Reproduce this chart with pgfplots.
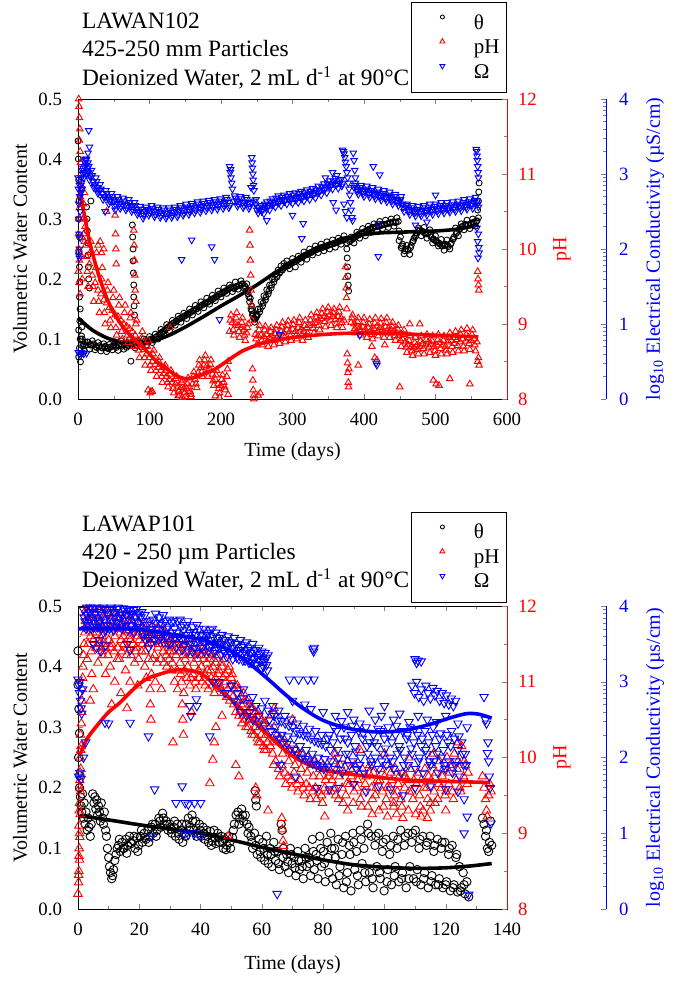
\documentclass[border=0pt]{standalone}
\usepackage{fontspec}
\setmainfont{Liberation Serif}
\usepackage{pgfplots}
\pgfplotsset{compat=1.18}

\definecolor{phred}{RGB}{255,0,0}
\definecolor{ecblue}{RGB}{0,0,255}

\pgfplotsset{
  base/.style={
    scale only axis, width=214.5pt, anchor=south west, clip=false,
    tick align=inside, major tick length=2.4pt, minor tick length=1.4pt,
    tick label style={font=\fontsize{9.4}{11}\selectfont},
    label style={font=\fontsize{11.7}{14}\selectfont},
    /pgf/number format/assume math mode=true,
  },
  thaxis/.style={base,
    ymin=0, ymax=0.5, ytick={0,0.1,0.2,0.3,0.4,0.5}, minor y tick num=1,
    ytick pos=left,
    yticklabel style={/pgf/number format/fixed, /pgf/number format/fixed zerofill,
      /pgf/number format/precision=1, xshift=-4.5pt},
    xticklabel style={yshift=-3.5pt},
    ylabel={Volumetric Water Content}, xlabel={Time (days)},
    every axis y label/.style={at={(rel axis cs:-0.135,0.5)}, anchor=center, rotate=90},
    legend cell align=left,
    legend style={draw=black, line width=0.5pt, fill=white, anchor=south east,
      font=\fontsize{10.5}{12}\selectfont, inner xsep=3.5pt, inner ysep=5.25pt,
      row sep=2.25pt, column sep=2.5pt,
      nodes={inner sep=0pt, text height=8pt, text depth=2pt}},
    legend image code/.code={\path (0pt,0pt) (24.5pt,0pt);
      \draw[##1] plot coordinates {(11.5pt,3pt)};},
  },
  phaxis/.style={base, axis y line*=right, axis x line=none,
    ymin=8, ymax=12, ytick={8,9,10,11,12}, minor y tick num=1,
    y axis line style={phred,-},
    yticklabel style={text=phred, xshift=2pt},
    ylabel={pH},
    every axis y label/.style={at={(rel axis cs:1.128,0.5)}, anchor=center, rotate=90, text=phred},
  },
  ecdata/.style={base, hide axis, ymin=0, ymax=4},
  ecaxis/.style={scale only axis, width=1pt, anchor=south west,
    xmin=0, xmax=1, ymin=0, ymax=4, axis y line*=right, axis x line=none,
    tick align=inside, major tick length=2.4pt, minor tick length=1.4pt,
    tick label style={font=\fontsize{9.4}{11}\selectfont},
    label style={font=\fontsize{11.7}{14}\selectfont},
    /pgf/number format/assume math mode=true,
    ytick={0,1,2,3,4},
    minor ytick={0.301,0.477,0.602,0.699,0.778,0.845,0.903,0.954,
      1.301,1.477,1.602,1.699,1.778,1.845,1.903,1.954,
      2.301,2.477,2.602,2.699,2.778,2.845,2.903,2.954,
      3.301,3.477,3.602,3.699,3.778,3.845,3.903,3.954},
    y axis line style={ecblue,-},
    yticklabel style={text=ecblue, xshift=3pt},
    every axis y label/.style={at={(rel axis cs:25.5,0.5)}, anchor=center, rotate=90, text=ecblue},
  },
  thpt/.style={only marks, mark=o, line width=0.45pt, black},
  phpt/.style={only marks, mark=triangle, line width=0.45pt, phred},
  ecpt/.style={only marks, mark=triangle, mark options={rotate=180}, line width=0.45pt, ecblue},
  fitline/.style={no marks, smooth, line width=1.8pt},
}

\begin{document}
\begin{tikzpicture}
\useasboundingbox (0,0) rectangle (337pt,493pt);

% ---------------- top panel: LAWAN102 ----------------
\begin{axis}[thaxis, at={(39pt,293.5pt)}, height=150pt,
  xmin=0, xmax=600, xtick={0,100,200,300,400,500,600}, minor x tick num=1,
  every axis x label/.style={at={(rel axis cs:0.5,-0.177)}, anchor=center},
  legend style={at={(1,1.02)}}]
\addlegendimage{only marks, mark=o, mark size=1pt, line width=0.45pt, black}
\addlegendentry{θ}
\addlegendimage{only marks, mark=triangle, mark size=1.45pt, line width=0.45pt, phred}
\addlegendentry{pH}
\addlegendimage{only marks, mark=triangle, mark options={rotate=180}, mark size=1.45pt, line width=0.45pt, ecblue}
\addlegendentry{Ω}
\addplot[thpt, mark size=1.5pt, forget plot] coordinates {
(0,0.43)(0.5,0.40)(1,0.365)(1.5,0.33)(1,0.30)(2,0.27)(1.5,0.245)(2,0.22)(2.5,0.195)(2,0.17)(3,0.15)(2.5,0.13)(1,0.115)(3,0.10)(2,0.085)(1,0.07)(3.5,0.062)(4,0.075)(4.5,0.09)(5,0.105)(5.5,0.12)(6,0.1)(7,0.088)(8,0.092)(9,0.08)(10,0.095)(11,0.09)
(12,0.32)(12.5,0.30)(13,0.28)(13.5,0.26)(14,0.24)(14.5,0.22)(15,0.20)(16,0.185)(18,0.33)
(74,0.063)(76,0.29)(76.5,0.27)(77,0.25)(77,0.23)(77.5,0.21)(78,0.19)(78,0.17)(78.5,0.155)(79,0.14)
(14,0.095)(18,0.09)(22,0.092)(26,0.086)(30,0.089)(34,0.085)(38,0.088)(42,0.084)(46,0.087)(50,0.09)(54,0.086)(58,0.092)(62,0.088)(66,0.093)(70,0.089)(74,0.094)(82,0.09)(86,0.095)(90,0.092)(94,0.097)(98,0.095)(102,0.1)(106,0.098)(110,0.104)(114,0.108)(118,0.112)(122,0.116)(126,0.12)(130,0.124)(134,0.127)(138,0.13)(142,0.134)(146,0.136)(150,0.139)(154,0.142)(158,0.145)(162,0.148)(166,0.15)(170,0.154)(174,0.157)(178,0.16)(182,0.162)(186,0.166)(190,0.168)(194,0.171)(198,0.175)(202,0.177)(206,0.18)(210,0.183)(214,0.186)(218,0.184)(222,0.188)(226,0.19)(230,0.192)(234,0.186)(238,0.175)(240,0.162)(242,0.15)(244,0.14)(246,0.135)(248,0.133)(250,0.138)(254,0.145)(258,0.155)(262,0.165)(266,0.175)(270,0.185)(274,0.195)(278,0.203)(282,0.21)(286,0.215)(290,0.22)(294,0.222)(298,0.226)(302,0.228)(306,0.231)(310,0.234)(314,0.236)(318,0.24)(322,0.242)(326,0.244)(330,0.247)(334,0.249)(338,0.251)(342,0.253)(346,0.254)(350,0.256)(354,0.258)(358,0.259)(362,0.261)(366,0.263)(370,0.265)(374,0.266)(380,0.262)(384,0.266)(388,0.27)(392,0.273)(396,0.276)(400,0.278)(404,0.28)(408,0.283)(412,0.285)(416,0.287)(420,0.288)(424,0.289)(428,0.291)(432,0.292)(436,0.293)(440,0.295)(444,0.294)(448,0.296)(451,0.27)(454,0.258)(458,0.25)(462,0.248)(466,0.256)(470,0.268)(474,0.277)(478,0.282)(482,0.279)(486,0.275)(490,0.277)(494,0.27)(498,0.265)(502,0.262)(506,0.258)(510,0.255)(514,0.258)(518,0.254)(522,0.26)(526,0.27)(530,0.278)(534,0.284)(538,0.288)(542,0.291)(546,0.29)(550,0.293)(554,0.295)(558,0.297)
(16,0.083)(20,0.097)(24,0.082)(28,0.094)(32,0.08)(36,0.092)(40,0.079)(44,0.091)(48,0.082)(52,0.095)(56,0.081)(60,0.097)(64,0.083)(68,0.086)(72,0.099)(80,0.085)(84,0.097)(88,0.087)(92,0.1)(96,0.09)(100,0.104)(104,0.094)(108,0.108)(112,0.1)(116,0.116)(120,0.108)(124,0.124)(128,0.114)(132,0.131)(136,0.123)(140,0.138)(144,0.128)(148,0.143)(152,0.134)(156,0.15)(160,0.14)(164,0.156)(168,0.146)(172,0.162)(176,0.152)(180,0.168)(184,0.158)(188,0.173)(192,0.164)(196,0.18)(200,0.17)(204,0.185)(208,0.176)(212,0.19)(216,0.179)(220,0.195)(224,0.183)(228,0.197)(232,0.185)(236,0.192)(238,0.182)(241,0.168)(243,0.155)(245,0.142)(247,0.128)(249,0.14)(252,0.15)(256,0.162)(260,0.172)(264,0.182)(268,0.19)(272,0.2)(276,0.208)(280,0.215)(284,0.222)(288,0.226)(292,0.23)(296,0.217)(300,0.234)(304,0.22)(308,0.238)(312,0.228)(316,0.245)(320,0.233)(324,0.25)(328,0.24)(332,0.255)(336,0.244)(340,0.258)(344,0.247)(348,0.262)(352,0.25)(356,0.265)(360,0.253)(364,0.268)(368,0.258)(372,0.272)(376,0.26)(382,0.27)(386,0.26)(390,0.278)(394,0.268)(398,0.284)(402,0.272)(406,0.288)(410,0.278)(414,0.292)(418,0.281)(422,0.296)(426,0.284)(430,0.298)(434,0.286)(438,0.3)(442,0.288)(446,0.302)(449,0.264)(452,0.252)(456,0.242)(460,0.256)(464,0.241)(468,0.262)(472,0.271)(476,0.285)(480,0.272)(484,0.286)(488,0.268)(492,0.282)(496,0.26)(500,0.272)(504,0.255)(508,0.266)(512,0.248)(516,0.265)(520,0.25)(524,0.266)(528,0.285)(532,0.272)(536,0.292)(540,0.282)(544,0.298)(548,0.284)(552,0.3)(556,0.288)(560,0.302)
(376,0.25)(376.5,0.235)(377,0.22)(377.5,0.205)(378,0.19)(378.5,0.18)(559,0.315)(560,0.33)(560.5,0.345)(561,0.36)
};
\addplot[thpt, mark size=1.5pt, forget plot] coordinates {
(13,0.095)(17,0.09)(21,0.09)(25,0.087)(29,0.087)(33,0.086)(37,0.086)(41,0.085)(45,0.086)(49,0.088)(53,0.088)(57,0.089)(61,0.09)(65,0.09)(69,0.091)(73,0.092)(81,0.09)(85,0.093)(89,0.093)(93,0.095)(97,0.096)(101,0.098)(105,0.1)(109,0.103)(113,0.106)(117,0.11)(121,0.114)(125,0.118)(129,0.122)(133,0.126)(137,0.129)(141,0.133)(145,0.135)(149,0.138)(153,0.141)(157,0.144)(161,0.147)(165,0.15)(169,0.153)(173,0.156)(177,0.159)(181,0.161)(185,0.164)(189,0.167)(193,0.17)(197,0.174)(201,0.176)(205,0.179)(209,0.182)(213,0.185)(217,0.185)(221,0.187)(225,0.189)(229,0.191)(233,0.189)(237,0.18)(239,0.17)(243,0.147)(247,0.134)(251,0.14)(255,0.15)(259,0.16)(263,0.17)(267,0.18)(271,0.19)(275,0.2)(279,0.206)(283,0.212)(287,0.218)(291,0.222)(295,0.224)(299,0.227)(303,0.229)(307,0.232)(311,0.235)(315,0.238)(319,0.24)(323,0.243)(327,0.245)(331,0.248)(335,0.25)(339,0.252)(343,0.253)(347,0.255)(351,0.257)(355,0.258)(359,0.26)(363,0.262)(367,0.264)(371,0.265)(381,0.264)(385,0.268)(389,0.272)(393,0.275)(397,0.277)(401,0.279)(405,0.282)(409,0.284)(413,0.286)(417,0.287)(421,0.288)(425,0.29)(429,0.291)(433,0.292)(437,0.294)(441,0.295)(445,0.295)(449,0.28)(453,0.255)(457,0.247)(461,0.25)(465,0.252)(469,0.264)(473,0.274)(477,0.28)(481,0.28)(485,0.277)(489,0.276)(493,0.273)(497,0.267)(501,0.263)(505,0.26)(509,0.256)(513,0.256)(517,0.256)(521,0.258)(525,0.267)(529,0.276)(533,0.282)(537,0.287)(541,0.29)(545,0.29)(549,0.292)(553,0.294)(557,0.296)
};
\addplot[fitline, black, forget plot] coordinates {
(0,0.135)(20,0.115)(40,0.102)(60,0.095)(80,0.092)(100,0.095)(125,0.105)(150,0.12)(175,0.137)(200,0.155)(225,0.172)(250,0.19)(275,0.21)(300,0.228)(325,0.245)(350,0.258)(375,0.268)(400,0.274)(425,0.277)(450,0.278)(475,0.279)(500,0.28)(530,0.283)(560,0.29)
};
\end{axis}

\begin{axis}[phaxis, at={(39pt,293.5pt)}, height=150pt, xmin=0, xmax=600]
\addplot[phpt, mark size=1.9pt] coordinates {
(1,12.0)(1.5,11.9)(2,11.75)(2.5,11.6)(2,11.45)(3,11.3)(3.5,11.15)(4,11.0)(4.5,10.85)(3,10.7)(2,10.55)(1,10.4)(0.5,10.2)(1,10.0)(2,9.85)(0.5,9.7)(1.5,9.55)(3,9.4)(5,9.9)(6,10.15)(7,10.4)(8,10.6)(9,10.75)(10,10.3)(11,10.05)(5,10.8)
(8,10.2)(12,9.9)(16,9.8)(20,9.65)(24,9.55)(28,9.45)(32,9.4)(36,9.32)(40,9.28)(44,9.22)(48,9.18)(52,9.12)(56,9.1)(60,9.05)(64,9.0)(68,8.97)(72,8.94)(76,8.9)(80,8.85)(84,8.78)(88,8.72)(92,8.66)(96,8.6)(100,8.55)(104,8.5)(108,8.46)(112,8.42)(116,8.38)(120,8.34)(124,8.3)(128,8.26)(132,8.22)(136,8.2)(140,8.17)(144,8.15)(148,8.13)(152,8.14)(156,8.16)(160,8.2)(164,8.26)(168,8.35)(172,8.42)(176,8.45)(180,8.44)(184,8.4)(188,8.33)(192,8.26)(196,8.2)(200,8.18)(204,8.22)(208,8.3)(212,8.9)(216,9.02)(220,9.0)(224,8.98)(228,8.95)(232,8.92)(236,8.88)(248,8.86)(252,8.84)(256,8.85)(260,8.83)(264,8.86)(268,8.82)(272,8.84)(276,8.87)(280,8.85)(284,8.9)(288,8.88)(292,8.92)(296,8.9)(300,8.93)(304,8.9)(308,8.95)(312,8.93)(316,8.9)(320,8.95)(324,8.98)(328,9.0)(332,9.02)(336,9.05)(340,9.07)(344,9.1)(348,9.08)(352,9.12)(356,9.1)(360,9.06)(364,9.1)(368,9.08)(372,9.05)(382,9.02)(386,9.0)(390,8.97)(394,8.95)(398,8.96)(402,8.93)(406,8.95)(410,8.92)(414,8.94)(418,8.97)(422,8.95)(426,8.93)(430,8.96)(434,8.94)(438,8.92)(442,8.9)(446,8.88)(450,8.85)(454,8.8)(458,8.76)(462,8.72)(466,8.7)(470,8.68)(474,8.72)(478,8.7)(482,8.74)(486,8.72)(490,8.76)(494,8.73)(498,8.7)(502,8.72)(506,8.75)(510,8.72)(514,8.7)(518,8.76)(522,8.78)(526,8.74)(530,8.79)(534,8.76)(538,8.8)(542,8.77)(546,8.82)(550,8.78)(554,8.8)(558,8.76)
(6,9.6)(10,10.4)(14,9.5)(18,10.1)(22,9.3)(26,9.95)(30,9.15)(34,9.75)(38,9.0)(42,9.55)(46,8.95)(50,9.45)(54,8.85)(58,9.35)(62,8.8)(66,9.25)(70,8.75)(74,9.15)(78,8.7)(82,9.05)(86,8.55)(90,8.9)(94,8.45)(98,8.78)(102,8.38)(106,8.65)(110,8.3)(114,8.55)(118,8.22)(122,8.45)(126,8.16)(130,8.38)(134,8.08)(138,8.3)(142,8.05)(146,8.25)(150,8.03)(154,8.28)(158,8.06)(162,8.36)(166,8.15)(170,8.52)(174,8.3)(178,8.58)(182,8.3)(186,8.52)(190,8.18)(194,8.38)(198,8.08)(202,8.32)(206,8.12)(210,8.5)(214,9.12)(218,8.85)(222,9.15)(226,8.82)(230,9.08)(234,8.78)(238,9.0)(250,8.72)(254,8.98)(258,8.72)(262,8.97)(266,8.7)(270,8.95)(274,8.72)(278,8.98)(282,8.74)(286,9.02)(290,8.76)(294,9.04)(298,8.78)(302,9.05)(306,8.8)(310,9.08)(314,8.78)(318,9.05)(322,8.82)(326,9.12)(330,8.88)(334,9.15)(338,8.92)(342,9.2)(346,8.96)(350,9.22)(354,8.98)(358,9.2)(362,8.95)(366,9.22)(370,8.95)(384,9.12)(388,8.88)(392,9.08)(396,8.85)(400,9.08)(404,8.82)(408,9.06)(412,8.8)(416,9.08)(420,8.84)(424,9.07)(428,8.82)(432,9.08)(436,8.82)(440,9.02)(444,8.78)(448,8.98)(452,8.7)(456,8.92)(460,8.62)(464,8.84)(468,8.58)(472,8.82)(476,8.6)(480,8.84)(484,8.6)(488,8.86)(492,8.62)(496,8.84)(500,8.58)(504,8.86)(508,8.6)(512,8.84)(516,8.6)(520,8.88)(524,8.62)(528,8.9)(532,8.64)(536,8.92)(540,8.64)(544,8.94)(548,8.66)(552,8.92)(556,8.64)
(28,10.05)(31,10.1)(33,9.95)(36,10.0)(40,10.5)(52,10.45)(52.5,10.2)(53,10.0)(53.5,9.8)(78,10.25)(78.5,10.05)(79,9.85)(79.5,9.65)(80,9.45)(81,9.3)(98,8.12)(101,8.08)(104,8.1)(129,8.95)
(102,8.1)(140,8.04)(146,8.02)(158,8.03)(192,8.04)(198,8.02)(210,8.06)(252,8.05)(255,8.08)
(240,10.25)(240.5,10.05)(241,9.85)(241.5,9.65)(242,9.45)(242.5,9.25)(243,9.05)(244,8.4)(244.5,8.25)(245,8.12)(245.5,8.05)(246,8.0)
(374,9.76)(374.5,9.62)(375,9.48)(375.5,9.35)(376,9.2)(376.5,8.6)(377,8.48)(377.5,8.35)(378,8.22)(378.5,8.16)(379,8.4)
(392,8.45)(411,8.7)(415,8.55)(418,8.52)(429,8.72)(450,8.16)(464,9.0)(478,9.0)(497,8.25)(501,8.2)(505,8.18)(520,8.27)(548,8.2)
(559,9.7)(559.5,9.6)(560,9.52)(560.5,9.45)(559,8.5)(561,8.45)(560,8.55)
};
\addplot[phpt, mark size=1.9pt] coordinates {
(9,10.1)(13,9.7)(17,9.95)(21,9.5)(25,9.75)(29,9.3)(33,9.6)(37,9.15)(41,9.45)(45,9.05)(49,9.35)(53,8.95)(57,9.25)(61,8.9)(65,9.15)(69,8.85)(73,9.08)(77,8.8)(81,9.0)(85,8.65)(89,8.82)(93,8.55)(97,8.7)(101,8.45)(105,8.6)(109,8.38)(113,8.5)(117,8.3)(121,8.42)(125,8.22)(129,8.33)(133,8.14)(137,8.27)(141,8.1)(145,8.22)(149,8.08)(153,8.2)(157,8.1)(161,8.3)(165,8.2)(169,8.45)(173,8.36)(177,8.52)(181,8.38)(185,8.46)(189,8.24)(193,8.32)(197,8.14)(201,8.26)(205,8.16)(209,8.4)(213,9.05)(217,8.92)(221,9.08)(225,8.9)(229,9.02)(233,8.85)(237,8.95)(249,8.8)(253,8.92)(257,8.78)(261,8.92)(265,8.77)(269,8.9)(273,8.78)(277,8.92)(281,8.8)(285,8.96)(289,8.82)(293,8.98)(297,8.84)(301,8.99)(305,8.85)(309,9.02)(313,8.86)(317,8.98)(321,8.88)(325,9.05)(329,8.94)(333,9.09)(337,8.98)(341,9.14)(345,9.03)(349,9.16)(353,9.05)(357,9.15)(361,9.0)(365,9.16)(369,9.02)(383,9.08)(387,8.94)(391,9.03)(395,8.9)(399,9.02)(403,8.88)(407,9.0)(411,8.86)(415,9.01)(419,8.9)(423,9.01)(427,8.88)(431,9.02)(435,8.88)(439,8.97)(443,8.84)(447,8.93)(451,8.78)(455,8.86)(459,8.69)(463,8.78)(467,8.64)(471,8.75)(475,8.66)(479,8.77)(483,8.67)(487,8.79)(491,8.69)(495,8.78)(499,8.64)(503,8.79)(507,8.67)(511,8.78)(515,8.65)(519,8.82)(523,8.7)(527,8.82)(531,8.71)(535,8.86)(539,8.7)(543,8.86)(547,8.74)(551,8.86)(555,8.72)
};
\addplot[fitline, phred] coordinates {
(2,10.8)(5,10.65)(10,10.4)(15,10.15)(20,9.95)(25,9.78)(30,9.62)(40,9.35)(50,9.15)(60,9.0)(70,8.88)(80,8.78)(90,8.7)(100,8.6)(110,8.5)(120,8.43)(130,8.36)(140,8.3)(150,8.27)(160,8.28)(170,8.31)(180,8.35)(190,8.39)(200,8.45)(215,8.55)(230,8.64)(245,8.7)(260,8.75)(280,8.79)(300,8.82)(330,8.85)(360,8.87)(400,8.88)(450,8.87)(500,8.85)(560,8.83)
};
\end{axis}

\begin{axis}[ecdata, at={(39pt,293.5pt)}, height=150pt, xmin=0, xmax=600]
\addplot[ecpt, mark size=1.9pt] coordinates {
(0,2.95)(0.5,2.8)(1,2.6)(1,2.4)(1.5,2.2)(2,2.0)(2,1.88)(1,1.92)(3,2.15)(3,2.5)(2.5,2.7)(4,2.85)(0.5,0.62)(2,0.6)(5,0.62)(8,0.6)(12,0.61)(15,3.58)(14,3.28)(16,3.36)(12,3.2)(10,3.15)(2,2.85)(4,2.75)(6,2.8)
(3,2.7)(5,2.88)(7,3.0)(9,3.1)(11,3.12)(13,3.08)(15,3.02)(18,2.95)(21,2.9)(24,2.86)(27,2.82)(30,2.78)(34,2.74)(38,2.7)(42,2.68)(46,2.66)(50,2.64)(54,2.63)(58,2.61)(62,2.6)(66,2.59)(70,2.58)(74,2.57)(78,2.55)(82,2.53)(86,2.5)(90,2.48)(94,2.5)(98,2.52)(102,2.51)(106,2.5)(110,2.5)(114,2.49)(118,2.48)(122,2.48)(126,2.48)(130,2.49)(134,2.49)(138,2.5)(142,2.51)(146,2.52)(150,2.52)(154,2.53)(158,2.54)(162,2.55)(166,2.56)(170,2.56)(174,2.57)(178,2.58)(182,2.58)(186,2.59)(190,2.59)(194,2.6)(198,2.6)(202,2.61)(206,2.62)(210,2.62)(218,2.64)(222,2.64)(226,2.63)(230,2.62)(234,2.62)(238,2.61)(242,2.62)(248,2.6)(251,2.56)(254,2.52)(258,2.53)(262,2.56)(266,2.58)(270,2.6)(274,2.62)(278,2.64)(282,2.65)(286,2.66)(290,2.66)(294,2.67)(298,2.68)(302,2.68)(306,2.69)(310,2.7)(314,2.71)(318,2.72)(322,2.73)(326,2.74)(330,2.75)(334,2.76)(338,2.78)(342,2.8)(346,2.82)(350,2.84)(354,2.86)(358,2.88)(362,2.88)(366,2.88)(370,2.87)(386,2.82)(390,2.8)(394,2.79)(398,2.78)(402,2.77)(406,2.76)(410,2.75)(414,2.74)(418,2.73)(422,2.72)(426,2.71)(430,2.7)(434,2.69)(438,2.68)(442,2.66)(446,2.65)(450,2.63)(454,2.6)(458,2.56)(462,2.53)(466,2.52)(470,2.51)(474,2.5)(478,2.5)(482,2.51)(486,2.52)(490,2.52)(494,2.53)(498,2.53)(502,2.54)(506,2.54)(510,2.55)(514,2.55)(518,2.55)(522,2.56)(526,2.56)(530,2.57)(534,2.58)(538,2.58)(542,2.59)(546,2.6)(550,2.61)(554,2.62)(558,2.63)
(4,2.8)(6,3.05)(8,2.95)(10,3.2)(12,3.0)(14,3.15)(16,2.92)(19,3.05)(22,2.82)(25,2.95)(28,2.74)(31,2.86)(35,2.66)(39,2.78)(43,2.6)(47,2.74)(51,2.57)(55,2.7)(59,2.54)(63,2.68)(67,2.52)(71,2.66)(75,2.5)(79,2.62)(83,2.46)(87,2.57)(91,2.41)(95,2.56)(99,2.45)(103,2.58)(107,2.43)(111,2.56)(115,2.42)(119,2.55)(123,2.41)(127,2.55)(131,2.42)(135,2.56)(139,2.43)(143,2.58)(147,2.45)(151,2.6)(155,2.46)(159,2.61)(163,2.48)(167,2.63)(171,2.49)(175,2.64)(179,2.51)(183,2.65)(187,2.52)(191,2.66)(195,2.53)(199,2.67)(203,2.54)(207,2.69)(211,2.55)(219,2.71)(223,2.57)(227,2.7)(231,2.55)(235,2.69)(239,2.54)(249,2.66)(252,2.48)(256,2.58)(260,2.47)(264,2.63)(268,2.52)(272,2.67)(276,2.56)(280,2.71)(284,2.58)(288,2.72)(292,2.6)(296,2.74)(300,2.61)(304,2.75)(308,2.62)(312,2.77)(316,2.64)(320,2.79)(324,2.66)(328,2.81)(332,2.68)(336,2.84)(340,2.72)(344,2.87)(348,2.75)(352,2.91)(356,2.8)(360,2.94)(364,2.81)(368,2.93)(388,2.88)(392,2.73)(396,2.85)(400,2.7)(404,2.84)(408,2.69)(412,2.82)(416,2.67)(420,2.8)(424,2.65)(428,2.78)(432,2.63)(436,2.76)(440,2.6)(444,2.73)(448,2.58)(452,2.7)(456,2.5)(460,2.6)(464,2.46)(468,2.58)(472,2.44)(476,2.57)(480,2.44)(484,2.58)(488,2.45)(492,2.6)(496,2.46)(500,2.6)(504,2.47)(508,2.62)(512,2.48)(516,2.62)(520,2.49)(524,2.63)(528,2.5)(532,2.64)(536,2.51)(540,2.66)(544,2.53)(548,2.67)(552,2.54)(556,2.69)(560,2.56)
(212,3.1)(213,3.02)(214,2.95)(215,2.88)(216,2.8)(213.5,3.06)(243,3.22)(243.5,3.15)(244,3.08)(244.5,3.0)(245,2.92)(245.5,2.85)(246,2.78)(242,2.82)
(370,3.32)(371,3.3)(372,3.27)(373,3.22)(374,3.16)(375,3.1)(376,3.02)(377,2.95)(378,2.88)(379,2.8)(380,2.72)(381,2.62)(382,2.52)(383,2.42)(384,2.38)(385,3.28)(386,3.18)(387,3.05)(388,2.95)(372,2.6)(374,2.5)(376,2.42)
(557,3.33)(557.5,3.3)(558,3.24)(558.5,3.18)(559,3.1)(559.5,3.02)(560,2.95)(560,2.2)(559,2.1)(560.5,2.02)(561,1.95)(559.5,1.88)(558,2.28)
(145,1.86)(159,2.12)(187,2.03)(191,1.86)(198,1.06)(282,0.86)(315,2.34)(313,2.14)(264,2.38)(38,2.5)(52,2.52)(413,3.1)(422,2.99)(420,1.9)(420,2.34)(394,0.85)(418,0.45)(417,0.48)(472,2.32)(488,2.36)(500,2.72)(357,2.62)(361,2.52)(300,2.45)(346,2.95)(356,3.02)(362,2.98)
};
\addplot[ecpt, mark size=1.9pt] coordinates {
(5,2.95)(7,3.08)(9,3.02)(11,3.18)(13,3.04)(15,3.1)(17,2.98)(20,2.98)(23,2.84)(26,2.9)(29,2.76)(32,2.8)(36,2.7)(40,2.74)(44,2.64)(48,2.7)(52,2.6)(56,2.66)(60,2.57)(64,2.64)(68,2.55)(72,2.62)(76,2.53)(80,2.58)(84,2.49)(88,2.53)(92,2.45)(96,2.53)(100,2.48)(104,2.54)(108,2.46)(112,2.53)(116,2.45)(120,2.52)(124,2.44)(128,2.52)(132,2.45)(136,2.53)(140,2.46)(144,2.55)(148,2.48)(152,2.56)(156,2.5)(160,2.58)(164,2.52)(168,2.6)(172,2.53)(176,2.61)(180,2.55)(184,2.62)(188,2.56)(192,2.63)(196,2.57)(200,2.64)(204,2.58)(208,2.66)(212,2.58)(220,2.68)(224,2.6)(228,2.67)(232,2.58)(236,2.66)(240,2.57)(246,2.64)(250,2.52)(253,2.55)(257,2.5)(261,2.6)(265,2.55)(269,2.64)(273,2.59)(277,2.68)(281,2.61)(285,2.69)(289,2.63)(293,2.7)(297,2.64)(301,2.72)(305,2.65)(309,2.74)(313,2.67)(317,2.75)(321,2.7)(325,2.77)(329,2.72)(333,2.79)(337,2.75)(341,2.83)(345,2.79)(349,2.87)(353,2.83)(357,2.91)(361,2.85)(365,2.91)(369,2.84)(387,2.85)(391,2.77)(395,2.82)(399,2.74)(403,2.8)(407,2.73)(411,2.78)(415,2.71)(419,2.76)(423,2.69)(427,2.74)(431,2.67)(435,2.72)(439,2.64)(443,2.7)(447,2.62)(451,2.66)(455,2.55)(459,2.58)(463,2.5)(467,2.55)(471,2.48)(475,2.53)(479,2.47)(483,2.55)(487,2.49)(491,2.56)(495,2.5)(499,2.57)(503,2.51)(507,2.58)(511,2.52)(515,2.58)(519,2.52)(523,2.59)(527,2.53)(531,2.6)(535,2.55)(539,2.62)(543,2.56)(547,2.63)(551,2.58)(555,2.65)(559,2.6)
};
\end{axis}

\begin{axis}[ecaxis, at={(302pt,293.5pt)}, height=150pt,
  ylabel={log\textsubscript{10} Electrical Conductivity (µS/cm)}]
\end{axis}

\node[anchor=base west, font=\fontsize{11.7}{14}\selectfont] at (37.5pt,478.5pt) {LAWAN102};
\node[anchor=base west, font=\fontsize{11.7}{14}\selectfont] at (37.5pt,464.5pt) {425-250 mm Particles};
\node[anchor=base west, font=\fontsize{11.7}{14}\selectfont] at (37.5pt,450pt) {Deionized Water, 2 mL d\textsuperscript{-1} at 90°C};

% ---------------- bottom panel: LAWAP101 ----------------
\begin{axis}[thaxis, at={(39pt,38.5pt)}, height=151.5pt,
  xmin=0, xmax=140, xtick={0,20,40,60,80,100,120,140}, minor x tick num=1,
  every axis x label/.style={at={(rel axis cs:0.5,-0.185)}, anchor=center},
  legend style={at={(1,1.01)}}]
\addlegendimage{only marks, mark=o, mark size=1pt, line width=0.45pt, black}
\addlegendentry{θ}
\addlegendimage{only marks, mark=triangle, mark size=1.45pt, line width=0.45pt, phred}
\addlegendentry{pH}
\addlegendimage{only marks, mark=triangle, mark options={rotate=180}, mark size=1.45pt, line width=0.45pt, ecblue}
\addlegendentry{Ω}
\addplot[thpt, mark size=2.1pt, forget plot] coordinates {
(0,0.426)(0,0.37)(0.3,0.33)(0.5,0.29)(0.2,0.25)(0.5,0.22)
(0.5,0.2)(0.8,0.185)(1,0.17)(1.2,0.16)(1.5,0.19)(1.8,0.15)(2,0.175)(2.3,0.14)(2.6,0.16)(3,0.13)(3.3,0.15)(3.6,0.135)(4,0.12)(4.3,0.14)
(4.8,0.19)(5.2,0.175)(5.5,0.185)(5.8,0.165)(6.1,0.18)(6.4,0.155)(6.7,0.17)(7,0.16)(7.3,0.145)(7.6,0.175)(8,0.15)(8.3,0.14)(8.6,0.16)(9,0.13)
(9.3,0.12)(9.6,0.1)(10,0.085)(10.3,0.07)(10.6,0.06)(11,0.05)(11.3,0.055)(11.6,0.065)(12,0.08)(12.4,0.09)(12.8,0.1)
(13.2,0.105)(13.8,0.095)(14.4,0.11)(15,0.1)(15.6,0.115)(16.2,0.105)(16.8,0.12)(17.4,0.108)(18,0.113)(18.6,0.1)(19.2,0.118)(19.8,0.105)
(20.4,0.12)(21,0.11)(21.6,0.125)(22.2,0.115)(22.8,0.13)(23.4,0.12)(24,0.135)(24.6,0.125)(25.2,0.14)(25.8,0.13)(26.4,0.15)(27,0.135)(27.6,0.158)(28.2,0.14)(28.8,0.145)(29.4,0.13)(30,0.14)(30.6,0.125)(31.2,0.135)(31.8,0.12)(32.4,0.14)(33,0.115)(33.6,0.13)(34.2,0.11)(34.8,0.125)
(35.4,0.14)(36,0.15)(36.6,0.135)(37.2,0.155)(37.8,0.13)(38.4,0.145)(39,0.125)(39.6,0.14)(40.2,0.12)(40.8,0.135)(41.4,0.115)(42,0.13)(42.6,0.11)(43.2,0.128)(43.8,0.112)(44.4,0.13)(45,0.108)(45.6,0.125)(46.2,0.11)(46.8,0.12)(47.4,0.1)(48,0.115)(48.6,0.105)(49.2,0.12)(49.8,0.1)(50.4,0.118)
(51,0.14)(51.6,0.155)(52.2,0.16)(52.8,0.15)(53.4,0.165)(54,0.145)(54.6,0.155)(55.2,0.14)(55.8,0.135)(57.8,0.195)(58,0.18)(58.2,0.17)
(56.4,0.12)(57,0.1)(57.6,0.125)(58.5,0.09)(59.1,0.115)(59.7,0.085)(60.3,0.11)(60.9,0.08)(61.5,0.12)(62.1,0.075)(62.7,0.1)(63.3,0.07)(63.9,0.11)(64.5,0.08)(65.1,0.095)(65.7,0.065)(66.3,0.14)(66.6,0.13)(67,0.1)(67.5,0.07)(68.1,0.09)(68.7,0.06)(69.3,0.1)(69.9,0.075)(70.5,0.085)(71.1,0.055)(71.7,0.095)(72.3,0.065)(72.9,0.08)(73.5,0.05)(74.1,0.1)(74.7,0.07)(75.3,0.085)(75.9,0.055)(76.5,0.115)(77.1,0.065)(77.7,0.09)(78.3,0.05)(78.9,0.12)(79.5,0.07)(80.1,0.095)(80.7,0.045)(81.3,0.11)(81.9,0.06)
(82.5,0.125)(83.1,0.05)(83.7,0.1)(84.3,0.04)(84.9,0.115)(85.5,0.07)(86.1,0.09)(86.7,0.035)(87.3,0.12)(87.9,0.06)(88.5,0.105)(89.1,0.03)(89.7,0.125)(90.3,0.065)(90.9,0.095)(91.5,0.04)(92.1,0.13)(92.7,0.075)(93.3,0.1)(93.9,0.045)(94.5,0.14)(95.1,0.06)(95.7,0.12)(96.3,0.035)(96.9,0.105)(97.5,0.07)(98.1,0.125)(98.7,0.05)(99.3,0.095)(99.9,0.03)(100.5,0.115)(101.1,0.065)(101.7,0.09)(102.3,0.04)(102.9,0.12)(103.5,0.07)(104.1,0.1)(104.7,0.045)(105.3,0.13)(105.9,0.06)(106.5,0.105)(107.1,0.035)(107.7,0.125)(108.3,0.07)(108.9,0.11)(109.5,0.05)(110.1,0.13)(110.7,0.065)(111.3,0.1)(111.9,0.04)(112.5,0.12)(113.1,0.06)(113.7,0.105)(114.3,0.035)(114.9,0.12)(115.5,0.055)(116.1,0.095)(116.7,0.04)(117.3,0.115)(117.9,0.05)(118.5,0.1)(119.1,0.035)(119.7,0.11)(120.3,0.045)(120.9,0.09)(121.5,0.03)(122.1,0.105)(122.7,0.04)(123.3,0.085)(123.9,0.028)(124.5,0.07)(125.1,0.035)(125.7,0.06)(126.3,0.025)(126.9,0.045)(127.5,0.02)
(132,0.15)(132.5,0.14)(133,0.12)(133.3,0.13)(133.6,0.1)(134,0.095)(134.3,0.11)(134.6,0.145)(135,0.105)
};
\addplot[thpt, mark size=2.1pt, forget plot] coordinates {
(13.5,0.115)(14.7,0.1)(15.9,0.092)(17.1,0.11)(18.3,0.12)(19.5,0.095)(20.7,0.13)(21.9,0.118)(23.1,0.11)(24.3,0.14)(25.5,0.12)(26.7,0.145)(27.9,0.15)(29.1,0.14)(30.3,0.132)(31.5,0.145)(32.7,0.125)(33.9,0.14)(35.1,0.12)(36.3,0.13)(37.5,0.145)(38.7,0.12)(39.9,0.13)(41.1,0.125)(42.3,0.12)(43.5,0.105)(44.7,0.118)(45.9,0.118)(47.1,0.11)(48.3,0.098)(49.5,0.11)(50.7,0.13)(52.5,0.14)(53.7,0.155)(55.5,0.125)(56.7,0.11)(57.9,0.105)(59.4,0.095)(60.6,0.1)(61.8,0.09)(63,0.09)(64.2,0.095)(65.4,0.075)(66.9,0.085)(68.4,0.078)(69.6,0.09)(70.8,0.068)(72,0.08)(73.2,0.07)(74.4,0.085)(75.6,0.075)(76.8,0.095)(78,0.08)(79.2,0.1)(80.4,0.075)(81.6,0.085)(82.8,0.1)(84,0.085)(85.2,0.055)(86.4,0.11)(87.6,0.045)(88.8,0.09)(90,0.11)(91.2,0.055)(92.4,0.115)(93.6,0.06)(94.8,0.125)(96,0.05)(97.2,0.12)(98.4,0.06)(99.6,0.11)(100.8,0.045)(102,0.105)(103.2,0.055)(104.4,0.115)(105.6,0.05)(106.8,0.12)(108,0.05)(109.2,0.125)(110.4,0.045)(111.6,0.115)(112.8,0.05)(114,0.11)(115.2,0.045)(116.4,0.105)(117.6,0.04)(118.8,0.11)(120,0.04)(121.2,0.1)(122.4,0.035)(123.6,0.09)(124.8,0.03)(126,0.04)
};
\addplot[fitline, black, forget plot] coordinates {
(0.5,0.154)(10,0.147)(20,0.139)(30,0.132)(40,0.125)(50,0.114)(60,0.102)(70,0.091)(80,0.081)(90,0.073)(100,0.069)(110,0.067)(120,0.068)(128,0.071)(135,0.075)
};
\end{axis}

\begin{axis}[phaxis, at={(39pt,38.5pt)}, height=151.5pt, xmin=0, xmax=140]
\addplot[phpt, mark size=2.45pt] coordinates {
(0,8.2)(0.2,8.35)(0.3,8.5)(0.5,8.65)(0.4,8.8)(0.6,8.95)(0.3,9.1)(0.7,9.25)(0.5,9.4)(0.8,9.55)(0.6,9.7)(0.9,9.85)(0.7,10.0)(1,10.15)(0.8,10.3)(1.1,10.45)(1.2,10.6)(1.3,10.75)(1.4,10.9)(1.5,11.05)(1.6,11.2)(1.8,11.35)(2,11.5)(2.2,11.65)(2.4,11.8)(2.6,11.95)(0.3,8.7)(0.5,9.0)(0.4,9.3)(0.6,9.6)(0.2,8.45)(0.7,9.8)(0.9,10.1)
(2.5,11.9)(3,11.7)(3.5,11.85)(4,11.6)(4.5,11.8)(5,11.55)(5.5,11.9)(6,11.65)(6.5,11.8)(7,11.5)(7.5,11.75)(8,11.6)(8.5,11.85)(9,11.45)(9.5,11.7)(10,11.55)(10.5,11.8)(11,11.5)(11.5,11.75)(12,11.6)(12.5,11.85)(13,11.45)(13.5,11.7)(14,11.55)(14.5,11.78)(15,11.5)(15.5,11.72)(16,11.45)(16.5,11.68)(17,11.55)(17.5,11.8)(18,11.5)(18.5,11.7)(19,11.45)(19.5,11.65)(20,11.55)
(3,11.3)(4.5,11.1)(5,10.9)(6.5,11.25)(8,11.35)(9,11.1)(10.5,11.2)(12,11.0)(13.5,11.3)(14,10.85)(15.5,11.15)(17,11.0)(18.5,11.25)(19.5,10.95)(4,10.75)(11,10.7)(16,10.65)
(20.5,11.7)(21,11.5)(21.5,11.75)(22,11.4)(22.5,11.6)(23,11.3)(23.5,10.9)(23.6,10.7)(23.8,10.5)(24,11.1)(24.5,11.55)(25,11.35)(25.5,11.7)(26,11.45)(26.5,11.6)(27,11.3)(27.5,11.55)(28,11.25)(28.5,11.5)(29,11.2)(29.5,11.45)(22.3,11.05)(25.2,11.0)(27.2,10.9)
(30,11.4)(30.5,11.15)(31,11.5)(31.5,11.0)(32,11.35)(32.5,10.9)(33,11.4)(33.5,11.1)(34,11.55)(34.5,10.85)(35,11.3)(35.5,11.05)(36,11.45)(36.5,10.95)(37,11.35)(37.5,11.1)(38,11.5)(38.5,10.9)(39,11.3)(39.5,11.05)(31,10.2)(34,10.7)(34.2,10.5)(34.4,10.3)(37,10.6)
(40,11.35)(40.5,11.0)(41,11.3)(41.5,10.95)(42,11.25)(42.5,10.9)(43,11.3)(43.5,11.05)(44,11.2)(44.5,10.85)(45,11.25)(45.5,10.95)(46,11.15)(46.5,10.9)(47,11.2)(47.5,10.85)(48,11.1)(48.5,10.8)(49,11.15)(49.5,10.75)(50,11.05)(50.5,10.8)(43,9.66)(44,9.97)(45,10.4)(47,10.55)(49,8.96)(44.5,10.2)
(51,10.9)(51.5,10.6)(52,10.95)(52.5,10.55)(53,10.8)(53.5,10.45)(54,10.85)(54.5,10.5)(55,10.75)(55.5,10.4)(56,10.7)(56.5,10.35)(57,10.65)(57.5,10.3)(58,10.6)(58.5,10.25)(59,10.55)(59.5,10.2)(60,10.5)(60.5,10.15)(61,10.45)(61.5,10.1)(62,10.4)(51.5,9.9)(52.5,9.75)(58,9.6)(58.3,9.5)(62,9.3)
(62.5,10.25)(63,10.55)(63.5,10.05)(64,10.4)(64.5,9.95)(65,10.3)(65.5,9.85)(66,10.25)(66.5,9.9)(67,10.2)(67.5,9.8)(68,10.15)(68.5,9.75)(69,10.1)(69.5,9.7)(70,10.05)(70.5,9.8)(71,10.1)(71.5,9.65)(72,10.0)(72.5,9.7)(73,10.05)(73.5,9.6)(74,9.95)(74.5,9.65)(75,10.0)(75.5,9.6)(76,9.9)(76.5,9.55)(77,9.95)(77.5,9.6)(78,9.9)(78.5,9.55)(79,9.85)(79.5,9.5)(80,9.9)(80.5,9.6)(81,9.85)(81.5,9.55)
(66.5,9.2)(66.7,9.05)(66.9,8.9)(67.1,8.83)(80.5,9.22)(64,10.65)(70,10.5)
(82,9.8)(82.6,9.55)(83.2,9.95)(83.8,9.6)(84.4,9.85)(85,9.45)(85.6,9.9)(86.2,9.6)(86.8,9.8)(87.4,9.5)(88,9.95)(88.6,9.65)(89.2,9.75)(89.8,9.4)(90.4,9.9)(91,9.6)(91.6,9.8)(92.2,9.45)(92.8,9.85)(93.4,9.55)(94,9.75)(94.6,9.35)(95.2,9.9)(95.8,9.6)(96.4,9.8)(97,9.5)(97.6,9.7)(98.2,9.3)(98.8,9.85)(99.4,9.55)(100,9.75)(100.6,9.45)(101.2,9.9)(101.8,9.6)(102.4,9.7)(103,9.4)(103.6,9.85)(104.2,9.55)(104.8,9.75)(105.4,9.45)(106,9.8)(106.6,9.6)(107.2,9.7)(107.8,9.3)(108.4,9.85)(109,9.55)(109.6,9.7)(110.2,9.25)(110.8,9.8)(111.4,9.5)(112,9.7)(112.6,9.3)(113.2,9.85)(113.8,9.6)(114.4,9.75)(115,9.4)(115.6,9.9)(116.2,9.55)(116.8,9.8)(117.4,9.45)(118,9.95)(118.6,9.6)(119.2,9.85)(119.8,9.5)(120.4,10.0)(121,9.65)(121.6,9.9)(122.2,9.55)(122.8,10.05)(123.4,9.7)(124,9.95)(124.6,9.6)(125.2,10.15)(125.8,9.75)(126.4,9.9)(127,9.65)
(84,10.05)(88,9.3)(92,10.1)(96,9.25)(100,10.05)(104,9.25)(106,9.2)(108,10.0)(112,9.22)(114,9.2)(116,10.05)(120,9.3)(124,10.2)(101,9.22)(103,9.35)(115,9.3)
(132,9.75)(132.5,9.6)(133,9.45)(133.3,9.3)(133.6,9.22)(134,9.5)(134.4,9.65)(134.8,9.55)
};
\addplot[phpt, mark size=2.45pt] coordinates {
(2.8,11.75)(3.3,11.5)(3.8,11.95)(4.3,11.4)(4.8,11.65)(5.3,11.95)(5.8,11.45)(6.3,11.7)(6.8,11.55)(7.3,11.95)(7.8,11.4)(8.3,11.7)(8.8,11.5)(9.3,11.9)(9.8,11.35)(10.3,11.65)(10.8,11.45)(11.3,11.9)(11.8,11.4)(12.3,11.7)(12.8,11.3)(13.3,11.85)(13.8,11.65)(14.3,11.4)(14.8,11.6)(15.3,11.9)(15.8,11.35)(16.3,11.8)(16.8,11.6)(17.3,11.35)(17.8,11.65)(18.3,11.85)(18.8,11.4)(19.3,11.6)(19.8,11.3)(20.3,11.75)(20.8,11.4)(21.3,11.6)(21.8,11.2)(22.8,11.5)(23.3,11.75)(24.3,11.3)(24.8,11.65)(25.8,11.25)(26.3,11.5)(26.8,11.75)(27.8,11.4)(28.3,11.65)(28.8,11.35)(29.3,11.6)(29.8,11.3)(30.3,11.55)(30.8,11.25)(31.3,11.4)(31.8,11.55)(32.3,11.15)(32.8,11.45)(33.3,11.25)(33.8,11.0)(34.3,11.35)(34.8,11.15)(35.3,11.5)(35.8,11.2)(36.3,11.35)(36.8,11.05)(37.3,11.4)(37.8,11.25)(38.3,11.0)(38.8,11.35)(39.3,11.15)(39.8,11.4)(40.3,11.2)(40.8,11.45)(41.3,11.1)(41.8,11.35)(42.3,11.15)(42.8,11.4)(43.3,11.15)(43.8,10.95)(44.3,11.3)(44.8,11.05)(45.3,11.35)(45.8,11.1)(46.3,10.95)(46.8,11.25)(47.3,11.05)(47.8,11.3)(48.3,11.0)(48.8,10.9)(49.3,11.2)(49.8,10.95)(50.3,11.1)(50.8,10.7)(51.3,10.95)(51.8,10.75)(52.3,10.9)(52.8,10.6)(53.3,10.7)(53.8,10.55)(54.3,10.75)(54.8,10.4)(55.3,10.6)(55.8,10.5)(56.3,10.65)(56.8,10.3)(57.3,10.5)(57.8,10.4)(58.3,10.55)(58.8,10.2)(59.3,10.4)(59.8,10.3)(60.3,10.45)(60.8,10.1)(61.3,10.3)(61.8,10.2)
(62.8,10.15)(63.8,9.9)(64.8,10.2)(65.8,9.75)(66.8,10.05)(67.8,9.65)(68.8,9.95)(69.8,9.6)(70.8,9.9)(71.8,9.55)(72.8,9.85)(73.8,9.5)(74.8,9.8)(75.8,9.45)(76.8,9.75)(77.8,9.45)(78.8,9.75)(79.8,9.4)(80.8,9.7)(81.8,9.75)(82.9,9.7)(84.1,9.5)(85.3,9.75)(86.5,9.4)(87.7,9.65)(88.9,9.85)(90.1,9.55)(91.3,9.7)(92.5,9.35)(93.7,9.65)(94.9,9.8)(96.1,9.45)(97.3,9.6)(98.5,9.7)(99.7,9.35)(100.9,9.6)(102.1,9.8)(103.3,9.5)(104.5,9.65)(105.7,9.35)(106.9,9.75)(108.1,9.55)(109.3,9.45)(110.5,9.65)(111.7,9.35)(112.9,9.6)(114.1,9.45)(115.3,9.7)(116.5,9.4)(117.7,9.65)(118.9,9.75)(120.1,9.55)(121.3,9.8)(122.5,9.45)(123.7,9.85)(124.9,9.55)(126.1,9.95)(127.3,9.8)
};
\addplot[fitline, phred] coordinates {
(0.5,10.02)(3,10.25)(7,10.46)(10,10.6)(13.6,10.72)(17,10.86)(20,10.97)(23,11.05)(26.7,11.1)(30,11.14)(33,11.16)(36,11.15)(39.7,11.12)(43,11.02)(46,10.9)(49,10.8)(52.8,10.66)(56,10.53)(59,10.41)(62,10.3)(66,10.15)(69,10.05)(72,9.97)(75,9.91)(79,9.85)(82,9.82)(87,9.79)(93,9.76)(100,9.73)(108,9.7)(115,9.69)(125,9.68)(134.6,9.67)
};
\end{axis}

\begin{axis}[ecdata, at={(39pt,38.5pt)}, height=151.5pt, xmin=0, xmax=140]
\addplot[ecpt, mark size=2.45pt] coordinates {
(0,3.03)(0.3,2.95)(0.5,2.85)(0.8,2.75)(1,2.65)(1.2,2.58)(0.6,3.0)(1.5,2.9)(0.2,1.75)(0.6,1.8)(1,1.72)(1.8,2.0)(2.5,2.2)
(1.8,3.95)(2.3,3.8)(2.8,3.98)(3.3,3.75)(3.8,3.92)(4.3,3.7)(4.8,3.96)(5.3,3.78)(5.8,3.9)(6.3,3.72)(6.8,3.97)(7.3,3.8)(7.8,3.88)(8.3,3.65)(8.8,3.95)(9.3,3.75)(9.8,3.9)(10.3,3.7)(10.8,3.98)(11.3,3.8)(11.8,3.92)(12.3,3.72)(12.8,3.96)(13.3,3.78)(13.8,3.9)(14.3,3.7)(14.8,3.97)(15.3,3.8)(15.8,3.88)(16.3,3.68)(16.8,3.94)(17.3,3.75)(17.8,3.9)(18.3,3.65)(18.8,3.86)(19.3,3.72)(19.8,3.9)
(5,3.5)(6,3.45)(7,3.55)(7.5,3.4)(9,3.48)(16,3.5)(17,3.42)(8.8,2.46)(10,2.45)(17,2.46)
(20.5,3.85)(21,3.65)(21.5,3.8)(22,3.55)(22.5,3.75)(23,3.45)(23.5,3.7)(24,3.6)(24.5,3.82)(25,3.55)(25.5,3.78)(26,3.62)(26.5,3.85)(27,3.58)(27.5,3.75)(28,3.52)(28.5,3.8)(29,3.6)(29.5,3.72)(30,3.5)(30.5,3.78)(31,3.55)(31.5,3.7)(32,3.45)(32.5,3.8)(33,3.6)(33.5,3.72)(34,3.42)(34.5,3.68)(35,3.55)(35.5,3.75)(36,3.4)(36.5,3.65)(37,3.5)(37.5,3.72)(38,3.45)(38.5,3.62)(39,3.38)(39.5,3.7)
(23,2.28)(25,1.58)(24,0.96)(34,1.62)(32,1.4)(35,1.4)(36,1.38)(38,1.4)(40,1.4)(34.5,1.0)(36,0.98)(38,1.0)(40,0.96)(36.5,2.68)(36.8,2.55)(38.6,2.77)(38.8,2.68)(43,2.28)(44,3.0)
(40,3.62)(40.5,3.45)(41,3.7)(41.5,3.5)(42,3.65)(42.5,3.4)(43,3.68)(43.5,3.48)(44,3.6)(44.5,3.38)(45,3.65)(45.5,3.45)(46,3.58)(46.5,3.35)(47,3.62)(47.5,3.42)(48,3.55)(48.5,3.33)(49,3.6)(49.5,3.4)(50,3.52)(50.5,3.3)(51,3.58)(51.5,3.38)(52,3.5)(52.5,3.3)(53,3.55)(53.5,3.35)(54,3.48)(54.5,3.28)(55,3.52)(55.5,3.32)(56,3.45)(56.5,3.25)(57,3.5)(57.5,3.3)(58,3.42)(58.5,3.22)(59,3.45)(59.5,3.28)(60,3.4)(60.5,3.2)(61,3.38)(61.5,3.22)(62,3.35)
(46,3.0)(48,2.85)(50,2.95)(52,2.7)(54,2.9)(56,2.6)(57,2.8)(59,2.55)(61,2.75)
(50,2.95)(51,2.75)(52,2.85)(53,2.6)(54,2.78)(55,2.55)(56,2.72)(57,2.5)(58,2.68)(59,2.45)(60,2.65)(61,2.42)(62,2.62)(63,2.35)(63.6,2.68)(64,2.55)(64.6,2.3)(65.2,2.5)(65.8,2.25)(66.4,2.48)(67,2.2)(67.6,2.45)(68.2,2.18)(68.8,2.42)(69.4,2.12)(70,2.4)(70.6,2.1)(71.2,2.35)(71.8,2.05)(72.4,2.32)(73,2.0)(73.6,2.3)(74.2,1.98)(74.8,2.28)(75.4,1.95)(76,2.25)(76.6,1.92)(77.2,2.22)(77.8,1.9)(78.4,2.2)(79,1.88)(79.6,2.18)(80.2,1.85)(80.8,2.15)(81.4,1.88)
(65,0.2)(69,3.03)(72,3.03)(75,3.03)(77,3.03)(76.7,3.43)(76.9,3.4)(77.1,3.45)(76,2.64)(70,2.75)(74,2.7)(80,2.6)(78,1.6)(82,1.58)(66,1.9)(71,1.75)
(82,2.3)(82.6,1.95)(83.2,2.2)(83.8,1.85)(84.4,2.35)(85,2.0)(85.6,2.25)(86.2,1.8)(86.8,2.4)(87.4,2.05)(88,2.2)(88.6,1.9)(89.2,2.3)(89.8,1.95)(90.4,2.15)(91,1.85)(91.6,2.35)(92.2,2.0)(92.8,2.25)(93.4,1.8)(94,2.4)(94.6,2.05)(95.2,2.2)(95.8,1.9)(96.4,2.3)(97,2.0)(97.6,2.15)(98.2,1.85)(98.8,2.35)(99.4,2.05)(100,2.25)(100.6,1.9)(101.2,2.4)(101.8,2.0)(102.4,2.2)(103,1.85)(103.6,2.3)(104.2,2.05)(104.8,2.15)(105.4,1.8)(106,2.35)(106.6,2.0)(107.2,2.25)(107.8,1.9)(108.4,2.4)(109,2.05)(109.6,2.2)(110.2,1.85)(110.8,2.3)(111.4,2.0)(112,2.15)(112.6,1.8)(113.2,2.35)(113.8,2.05)(114.4,2.2)(115,1.9)(115.6,2.3)(116.2,1.95)(116.8,2.15)(117.4,1.8)(118,2.25)(118.6,2.0)(119.2,2.1)(119.8,1.85)(120.4,2.3)(121,1.95)(121.6,2.15)(122.2,1.8)(122.8,2.25)(123.4,1.95)(124,2.1)(124.6,1.75)(125.2,2.2)(125.8,1.9)(126.4,2.05)
(84,2.55)(86,2.48)(88,2.6)(90,2.5)(92,2.45)(95,2.62)(97,2.5)(99,2.55)(100,2.68)(103,2.5)(105,2.58)(108,2.47)(111,2.55)(114,2.5)(117,2.47)(120,2.55)(124,2.45)(127,2.4)
(85,1.6)(90,1.65)(94,1.55)(98,1.62)(102,1.58)(106,1.5)(110,1.6)(115,1.62)(120,1.58)(124,1.55)(126,1.45)
(109,2.95)(109.8,2.85)(110.5,3.0)(111.2,2.8)(112,2.9)(112.8,2.75)(113.5,2.95)(114.2,2.85)(115,2.78)(115.8,2.92)(116.5,2.82)(117.2,2.88)(118,2.75)(118.8,2.85)(119.5,2.72)(120.2,2.82)(121,2.7)(121.8,2.78)(122.5,2.68)(123.2,2.75)
(110,3.3)(110.5,3.25)(111,3.28)(112,3.27)
(127,1.22)(127.5,0.19)(132.5,2.8)(133,2.5)(133.3,2.45)(133.6,2.06)(134,1.95)(134.2,1.75)(134.5,1.6)(134.8,1.13)(133.8,2.2)(126,1.0)
};
\addplot[ecpt, mark size=2.45pt] coordinates {
(2,3.85)(2.6,3.7)(3.1,3.88)(3.6,3.82)(4.1,3.98)(4.6,3.85)(5.1,3.72)(5.6,3.98)(6.1,3.85)(6.6,3.78)(7.1,3.92)(7.6,3.7)(8.1,3.98)(8.6,3.82)(9.1,3.68)(9.6,3.96)(10.1,3.84)(10.6,3.74)(11.1,3.95)(11.6,3.68)(12.1,3.86)(12.6,3.78)(13.1,3.98)(13.6,3.84)(14.1,3.76)(14.6,3.88)(15.1,3.94)(15.6,3.74)(16.1,3.96)(16.6,3.82)(17.1,3.9)(17.6,3.7)(18.1,3.95)(18.6,3.8)(19.1,3.96)(19.6,3.78)(20.2,3.72)(20.8,3.92)(21.3,3.6)(21.8,3.88)(22.3,3.66)(22.8,3.58)(23.3,3.8)(23.8,3.5)(24.3,3.7)(24.8,3.65)(25.3,3.9)(25.8,3.7)(26.3,3.55)(26.8,3.78)(27.3,3.65)(27.8,3.88)(28.3,3.62)(28.8,3.7)(29.3,3.5)(29.8,3.82)(30.3,3.6)(30.8,3.65)(31.3,3.8)(31.8,3.58)(32.3,3.65)(32.8,3.5)(33.3,3.82)(33.8,3.55)(34.3,3.75)(34.8,3.48)(35.3,3.62)(35.8,3.8)(36.3,3.5)(36.8,3.58)(37.3,3.4)(37.8,3.66)(38.3,3.52)(38.8,3.75)(39.3,3.55)(39.8,3.45)(40.3,3.55)(40.8,3.6)(41.3,3.4)(41.8,3.56)(42.3,3.62)(42.8,3.46)(43.3,3.55)(43.8,3.7)(44.3,3.5)(44.8,3.42)(45.3,3.58)(45.8,3.52)(46.3,3.45)(46.8,3.5)(47.3,3.55)(47.8,3.38)(48.3,3.48)(48.8,3.44)(49.3,3.52)(49.8,3.36)(50.3,3.45)(50.8,3.4)(51.3,3.5)(51.8,3.32)(52.3,3.42)(52.8,3.38)(53.3,3.46)(53.8,3.28)(54.3,3.4)(54.8,3.36)(55.3,3.42)(55.8,3.25)(56.3,3.38)(56.8,3.32)(57.3,3.4)(57.8,3.22)(58.3,3.33)(58.8,3.3)(59.3,3.36)(59.8,3.18)(60.3,3.3)(60.8,3.26)(61.3,3.32)(61.8,3.15)
(62.5,2.5)(63.5,2.58)(64.5,2.4)(65.5,2.62)(66.5,2.3)(67.5,2.55)(68.5,2.28)(69.5,2.5)(70.5,2.25)(71.5,2.45)(72.5,2.15)(73.5,2.42)(74.5,2.1)(75.5,2.38)(76.5,2.05)(77.5,2.35)(78.5,2.0)(79.5,2.3)(80.5,1.98)(81.5,2.25)(82.3,2.1)(83.5,2.4)(84.7,2.1)(85.9,1.92)(87.1,2.25)(88.3,2.05)(89.5,2.42)(90.7,2.08)(91.9,1.9)(93.1,2.32)(94.3,2.15)(95.5,1.95)(96.7,2.2)(97.9,2.38)(99.1,1.95)(100.3,2.12)(101.5,2.3)(102.7,1.95)(103.9,2.42)(105.1,2.1)(106.3,1.9)(107.5,2.3)(108.7,2.12)(109.9,2.38)(111.1,1.95)(112.3,2.25)(113.5,2.1)(114.7,1.95)(115.9,2.4)(117.1,2.05)(118.3,2.32)(119.5,1.9)(120.7,2.2)(121.9,2.35)(123.1,1.9)(124.3,2.28)(125.5,2.05)(126.7,1.9)
};
\addplot[fitline, ecblue] coordinates {
(0,3.7)(10,3.7)(20,3.69)(30,3.63)(40,3.56)(46,3.48)(51,3.38)(55,3.27)(59,3.14)(63,3.0)(68,2.82)(73,2.66)(79,2.51)(84,2.43)(90,2.37)(96,2.34)(102,2.34)(108,2.37)(115,2.44)(122,2.53)(127,2.58)(131,2.57)(135,2.52)
};
\end{axis}

\begin{axis}[ecaxis, at={(302pt,38.5pt)}, height=151.5pt,
  ylabel={log\textsubscript{10} Electrical Conductivity (µs/cm)}]
\end{axis}

\node[anchor=base west, font=\fontsize{11.7}{14}\selectfont] at (37.5pt,227pt) {LAWAP101};
\node[anchor=base west, font=\fontsize{11.7}{14}\selectfont] at (37.5pt,213pt) {420 - 250 µm Particles};
\node[anchor=base west, font=\fontsize{11.7}{14}\selectfont] at (37.5pt,199pt) {Deionized Water, 2 mL d\textsuperscript{-1} at 90°C};
\end{tikzpicture}
\end{document}
